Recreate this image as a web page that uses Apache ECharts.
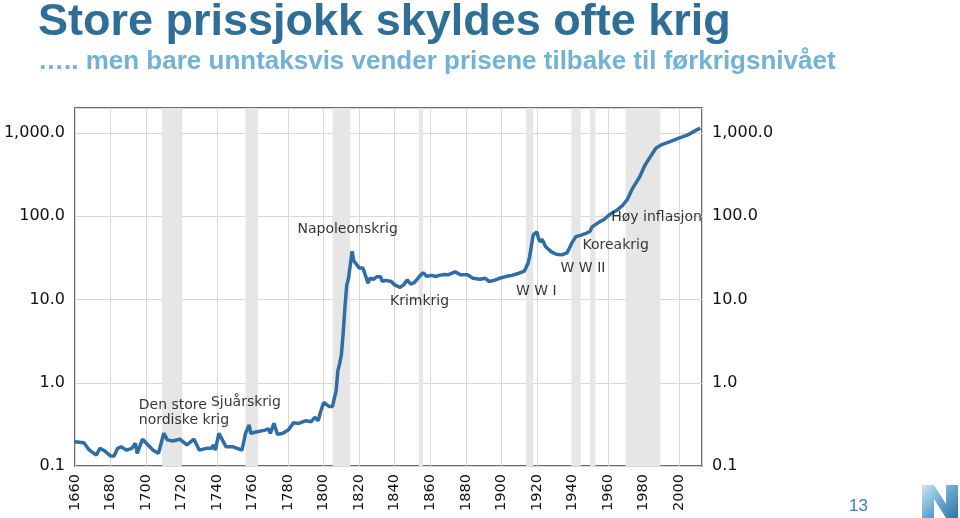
<!DOCTYPE html>
<html><head><meta charset="utf-8">
<script src="https://cdn.jsdelivr.net/npm/echarts@6/dist/echarts.min.js"></script>
<style>html,body{margin:0;padding:0;background:#fff}#c{width:960px;height:518px}</style>
</head><body><div id="c"></div>
<script>
// Price index (log scale)
const years = [1660,1665,1668,1672,1674,1677,1680,1682,1684,1686,1689,1692,1694,1695,1698,1701,1704,1707,1710,1712,1715,1719,1723,1727,1730,1734,1737,1738,1739,1741,1744,1745,1749,1754,1756,1758,1759,1762,1767,1769,1770,1772,1774,1777,1780,1783,1786,1790,1793,1795,1797,1798,1800,1803,1805,1806,1807,1808,1809,1810,1811,1812,1813,1814,1815,1816,1817,1818,1820,1822,1823,1825,1826,1828,1830,1832,1833,1835,1838,1840,1843,1845,1847,1849,1851,1854,1856,1858,1861,1863,1865,1868,1870,1874,1877,1881,1884,1888,1891,1893,1896,1899,1903,1906,1910,1913,1915,1916,1917,1918,1920,1921,1922,1923,1925,1928,1931,1934,1937,1938,1940,1942,1945,1948,1950,1951,1952,1955,1958,1961,1965,1968,1971,1974,1978,1981,1984,1987,1990,1995,2000,2005,2010,2012];
const prices = [0.196,0.19,0.156,0.135,0.163,0.15,0.132,0.132,0.163,0.17,0.155,0.163,0.187,0.142,0.21,0.18,0.155,0.142,0.247,0.206,0.2,0.21,0.18,0.21,0.155,0.163,0.163,0.18,0.155,0.247,0.187,0.17,0.17,0.155,0.247,0.311,0.247,0.256,0.27,0.28,0.247,0.325,0.24,0.247,0.27,0.33,0.325,0.35,0.34,0.385,0.35,0.43,0.58,0.52,0.52,0.65,0.8,1.4,1.7,2.2,4,8.2,15,18,17.5,38,29,28,24,24,21,15.7,18,17.5,18.8,18.8,16.5,17,16.5,15,14,15,17.2,15.3,16,19,21,19,19.5,18.8,19.5,20,19.8,21.5,19.8,19.8,18,17.5,18,16.5,17,18,19,19.5,20.7,22,27,33,45,60,65,54,49,53,43,37.6,35,34.4,36.4,40,49,57,59.5,62.7,66,74,78,85,92,105,118,133,160,218,300,415,522,658,721,791,868,951,1092,1145];

// War periods (shaded bands)
const warStart = [1709,1756,1805,1853.5,1914,1939.5,1950,1970];
const warEnd   = [1720,1763,1815,1856,1918,1944.7,1953,1989.5];

// Annotations
const annoTexts  = ['Napoleonskrig','Krimkrig','W W I','W W II','Koreakrig','Høy inflasjon','Den store\nnordiske krig','Sjuårskrig'];
const annoYears  = [1813.5,1854,1919.7,1946,1964.4,1987.4,1695.9,1756.2];
const annoValues = [70.6,9.6,12.7,24,45.3,98.4,0.44,0.587];

const titleText = 'Store prissjokk skyldes ofte krig';
const subText = '….. men bare unntaksvis vender prisene tilbake til førkrigsnivået';
const pageNo = '13';

const lineData = years.map((y,i)=>[y,prices[i]]);
const areas = warStart.map((s,i)=>[{xAxis:s},{xAxis:warEnd[i]}]);
const annoData = annoTexts.map((t,i)=>{
  const d = {value:[annoYears[i],annoValues[i]], name:t};
  if (t.indexOf('\n')>=0) d.label = {position:'right', distance:0, align:'left'};
  return d;
});

function fmtY(v){
  const r = Math.round(v*10)/10;
  return r.toLocaleString('en-US',{minimumFractionDigits:1,maximumFractionDigits:1});
}
const yLabel = {fontFamily:'DejaVu Sans', fontSize:16, color:'#111', margin:10, showMaxLabel:false, formatter:fmtY};

const chart = echarts.init(document.getElementById('c'), null, {renderer:'canvas'});
chart.setOption({
  animation:false,
  backgroundColor:'#fff',
  grid:{left:75,right:258,top:108,bottom:52,show:true,borderColor:'#3a3a3a',borderWidth:1.5,backgroundColor:'transparent'},
  xAxis:{type:'value',min:1660,max:2013,interval:20,
    axisLine:{show:false},axisTick:{show:false},
    splitLine:{show:true,lineStyle:{color:'#d8d8d8',width:1}},
    axisLabel:{rotate:90,fontFamily:'DejaVu Sans',fontSize:14.5,color:'#111',margin:8,showMaxLabel:false,formatter:v=>String(v)}},
  yAxis:[
    {type:'log',logBase:10,min:0.1,max:2000,position:'left',axisLine:{show:false},axisTick:{show:false},
     splitLine:{show:true,lineStyle:{color:'#d8d8d8',width:1}},axisLabel:yLabel},
    {type:'log',logBase:10,min:0.1,max:2000,position:'right',axisLine:{show:false},axisTick:{show:false},
     splitLine:{show:false},axisLabel:yLabel}
  ],
  graphic:[
    {type:'text',left:38,top:0,style:{text:titleText,font:'bold 45px "Liberation Sans", Arial, sans-serif',fill:'#2f6f97'}},
    {type:'text',left:38,top:49,style:{text:subText,font:'bold 26px "Liberation Sans", Arial, sans-serif',fill:'#72b2d5'}},
    {type:'text',left:849,top:498,style:{text:pageNo,font:'17px "Liberation Sans", Arial, sans-serif',fill:'#3c7fb0'}},
    {type:'polygon',shape:{points:[[922,485],[934,485],[946,504],[946,485],[958,485],[958,518],[946,518],[934,499],[934,518],[922,518]]},
     style:{fill:new echarts.graphic.LinearGradient(0,0,1,1,[{offset:0,color:'#cfe5f2'},{offset:0.5,color:'#6aa8cf'},{offset:1,color:'#2d75a6'}])}}
  ],
  series:[
    {type:'line',data:lineData,showSymbol:false,symbol:'none',z:3,
     lineStyle:{color:'#2f6ea5',width:3.5},
     markArea:{silent:true,itemStyle:{color:'#e6e6e6'},data:areas}},
    {type:'scatter',data:annoData,symbolSize:0,z:4,silent:true,
     label:{show:true,position:'inside',formatter:p=>p.name,fontFamily:'DejaVu Sans',fontSize:14,color:'#000',
            textBorderWidth:0,textBorderColor:'transparent',lineHeight:15}}
  ]
});
</script></body></html>
